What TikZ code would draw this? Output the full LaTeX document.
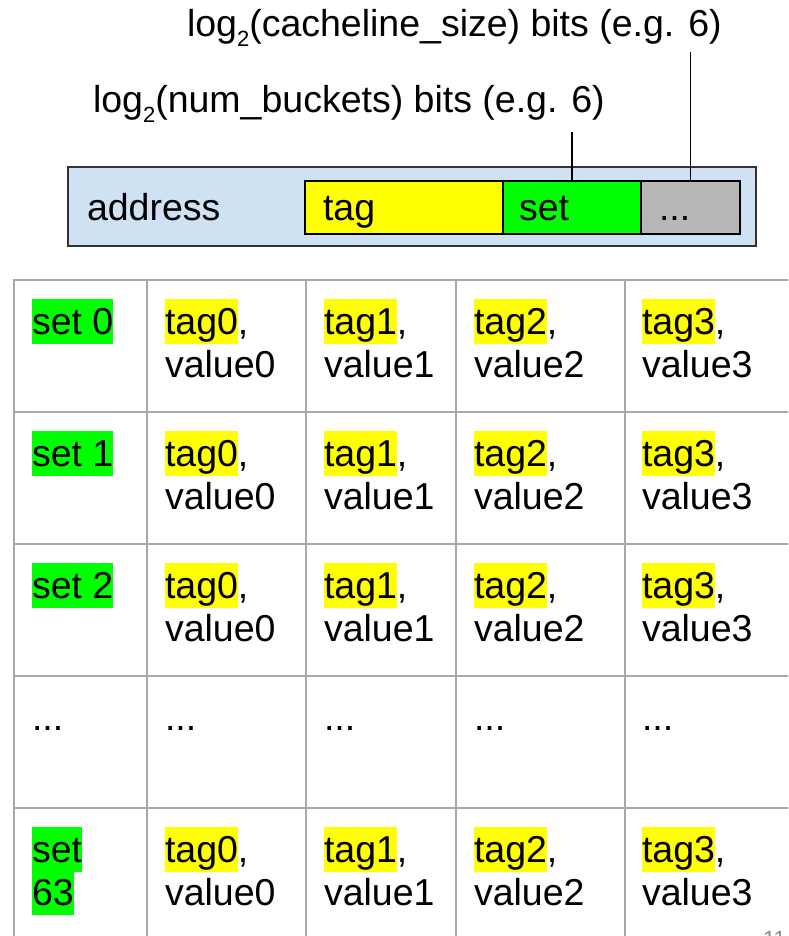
\documentclass[tikz,border=0pt]{standalone}
\usepackage{fontspec}
\setmainfont{Liberation Sans}
\definecolor{addrblue}{HTML}{CFE2F3}
\definecolor{hlyellow}{HTML}{FFFF00}
\definecolor{hlgreen}{HTML}{00FF00}
\definecolor{bitgray}{HTML}{B7B7B7}
\definecolor{gridgray}{HTML}{A8A8A8}
\definecolor{pagegray}{HTML}{8C8C8C}
\newcommand{\hlA}[2]{{\setlength{\fboxsep}{0pt}\colorbox{#1}{\rule[-10pt]{0pt}{45pt}#2}}}
\newcommand{\hlB}[2]{{\setlength{\fboxsep}{0pt}\colorbox{#1}{\rule[-10pt]{0pt}{43pt}#2}}}
\newcommand{\firststrut}{\rule[-10pt]{0pt}{45pt}}
\newcommand{\subtwo}{\raisebox{-10pt}{\fontsize{22}{22}\selectfont 2}}
\begin{document}
\begin{tikzpicture}[x=1pt,y=-1pt,
  every node/.style={font=\fontsize{37.5}{43}\selectfont, inner sep=0pt, outer sep=0pt},
  cell/.style={anchor=north west, align=left},
  lbl/.style={anchor=base west},
  bitbox/.style={draw=black, line width=1.5pt},
  grid/.style={draw=gridgray, line width=2pt},
  leader/.style={draw=black, line width=1.2pt}]
\useasboundingbox (0,0) rectangle (788,936);
\clip (0,0) rectangle (788,936);
\fill[white] (0,0) rectangle (788,936);

% address register
\node[draw=black!80, line width=1.5pt, fill=addrblue, minimum width=688pt, minimum height=79pt, anchor=north west] (addr) at (68,167) {};
\node[bitbox, fill=hlyellow, minimum width=198pt, minimum height=53pt, anchor=north west] (tagbox) at (305,181) {};
\node[bitbox, fill=hlgreen, minimum width=138pt, minimum height=53pt, anchor=north west] (setbox) at (503,181) {};
\node[bitbox, fill=bitgray, minimum width=99pt, minimum height=53pt, anchor=north west] (dotbox) at (641,181) {};
\node[lbl] (addrtxt) at (87,220) {address};
\node[lbl] (tagtxt) at (323,220) {tag};
\node[lbl] (settxt) at (519,220) {set};
\node[lbl] (dottxt) at (659,220) {...};

% bit-field labels
\node[lbl] (cllbl) at (187,37) {log\subtwo(cacheline\_size) bits (e.g. 6)};
\node[lbl] (nblbl) at (93,113) {log\subtwo(num\_buckets) bits (e.g. 6)};
\coordinate (cltop) at (691,52);
\coordinate (nbtop) at (572,132);
\draw[leader] (dotbox.north) -- (dotbox.north |- cltop);
\draw[leader] (setbox.north) -- (setbox.north |- nbtop);

% table grid
\foreach \gy in {280,412,544,676,808} \draw[grid] (14,\gy) -- (800,\gy);
\foreach \gx in {14,147,306,456,625} \draw[grid] (\gx,279) -- (\gx,950);

% table rows
\foreach \r/\s in {0/0,1/1,2/2} {
  \pgfmathsetmacro{\rowy}{280+132*\r+19}
  \node[cell] (set\r) at (32,\rowy) {\hlA{hlgreen}{set \s}};
  \foreach \c/\x in {0/165,1/324,2/474,3/642}
    \node[cell] (cell\r\c) at (\x,\rowy) {\hlA{hlyellow}{tag\c},\\value\c};
}
\node[cell] (set3) at (32,695) {\firststrut...};
\foreach \c/\x in {0/165,1/324,2/474,3/642}
  \node[cell] (cell3\c) at (\x,695) {\firststrut...};
\node[cell] (set4) at (32,827) {\hlA{hlgreen}{set}\\\hlB{hlgreen}{63}};
\foreach \c/\x in {0/165,1/324,2/474,3/642}
  \node[cell] (cell4\c) at (\x,827) {\hlA{hlyellow}{tag\c},\\value\c};

% page number (cut off at the bottom edge, as in the original)
\node[lbl, font=\fontsize{22}{22}\selectfont, text=pagegray] (pagenum) at (763,946) {11};
\end{tikzpicture}
\end{document}
